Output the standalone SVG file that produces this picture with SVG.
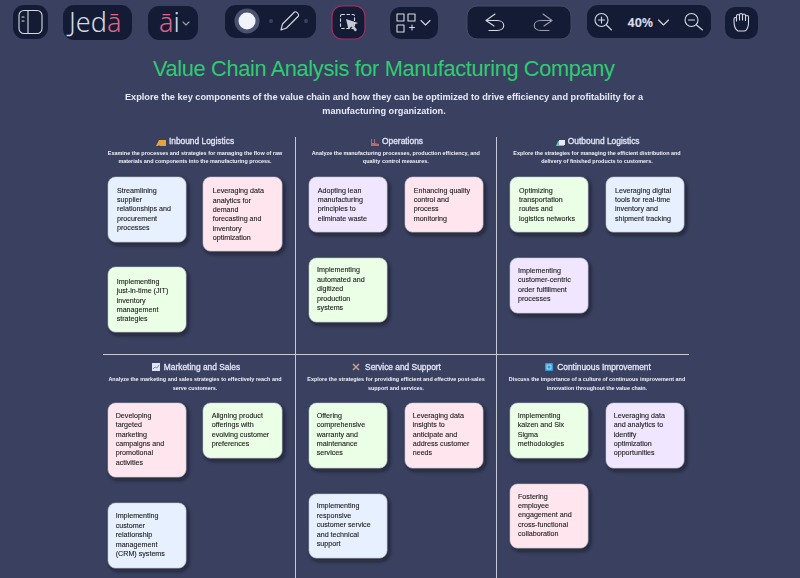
<svg xmlns="http://www.w3.org/2000/svg" width="800" height="578" viewBox="0 0 800 578">
<style>
text{font-family:"Liberation Sans",Arial,sans-serif}
.tb{fill:#141c35}
.ic{fill:none;stroke:#d5d9e2;stroke-width:1.1;stroke-linecap:round;stroke-linejoin:round}
.dim{stroke:#9aa0b0}
.logo{font-family:"Noto Sans",sans-serif;font-size:27px;font-weight:300;fill:#d5d9e2}
.pk{fill:#e0648c}
.card{stroke:#c0c5d2;stroke-width:.5;filter:url(#sh)}
.ct{font-size:7.15px;fill:#111;stroke:#111;stroke-width:.08;filter:url(#soft)}
.h{font-size:8.4px;fill:#e2e6f6;stroke:#e2e6f6;stroke-width:.3;text-anchor:middle;filter:url(#soft)}
.d{font-size:5.45px;font-weight:bold;fill:#eef0f8;text-anchor:middle;filter:url(#soft)}
.sub{font-size:9.2px;font-weight:bold;fill:#e6e9f4;text-anchor:middle;filter:url(#soft)}
.blue{fill:#e6f0ff}.pink{fill:#ffe6ee}.green{fill:#eaffe6}.lav{fill:#f0e6ff}
.ln{stroke:#c6cad6;stroke-width:1;fill:none}
</style>
<defs>
<filter id="sh" x="-20%" y="-20%" width="150%" height="150%"><feDropShadow dx="2" dy="2.500" stdDeviation="2" flood-color="#10131f" flood-opacity=".7"/></filter>
<filter id="soft" x="-5%" y="-30%" width="110%" height="160%"><feGaussianBlur stdDeviation=".22"/></filter>
</defs>
<rect width="800" height="578" fill="#3a4160"/>
<g id="toolbar">
<rect class="tb" x="13" y="5" width="35" height="34" rx="11"/>
<rect class="ic" x="19" y="10.500" width="23" height="23" rx="5"/><path class="ic" d="M28 10.500V33.500M22 17h2M22 21h2"/>
<rect class="tb" x="63" y="5" width="69" height="35" rx="11"/>
<text class="logo" x="69" y="31.500">Jed<tspan class="pk">ā</tspan></text>
<rect class="tb" x="148" y="6" width="50" height="34" rx="11"/>
<text class="logo" x="159" y="31.500"><tspan class="pk">ā</tspan>i</text>
<path class="ic dim" stroke-width=".8" d="M183 22l3 3 3-3"/>
<rect class="tb" x="225" y="5" width="91" height="33" rx="11"/>
<circle cx="247" cy="21" r="12.500" fill="#4a5270"/><circle cx="247" cy="21" r="8.500" fill="#f1f3fb"/>
<circle cx="271" cy="21" r="2" fill="#3a4160"/><circle cx="306" cy="21" r="2" fill="#3a4160"/>
<path class="ic" d="M281 30l1.500-6 12-12c1.500-1 5 2 4 4l-12 12z"/>
<rect class="tb" x="332" y="6" width="33" height="33" rx="10" stroke="#a03060" stroke-width="1.200"/>
<rect class="ic" x="340.500" y="14.500" width="14" height="14" rx="1.500" stroke-dasharray="2.500 2.500"/>
<path d="M346 19l12 4-4.500 2 3.500 5-2 1.500-3.500-5-3 3z" fill="#c5cad6"/>
<rect class="tb" x="390" y="7" width="48" height="32" rx="10"/>
<rect class="ic" x="397" y="14" width="7" height="7"/><rect class="ic" x="408" y="14" width="7" height="7"/><rect class="ic" x="397" y="25" width="7" height="7"/>
<path class="ic" d="M412 25v5M409.500 27.500h5M421 20.500l4.500 4.500 4.500-4.500"/>
<rect class="tb" x="467" y="6" width="104" height="33" rx="10" stroke="#454c66"/>
<path class="ic" d="M495 14l-9 6.500 8 5.500M486 20.500h11c9 0 9 10 0 10h-8"/>
<path class="ic dim" d="M543 14l9 6.500-8 5.500M552 20.500h-11c-9 0-9 10 0 10h8"/>
<rect class="tb" x="587" y="5" width="124" height="33" rx="11"/>
<circle class="ic" cx="601.500" cy="20" r="6.500"/><path class="ic" d="M606.500 25l5 5M598.500 20h6M601.500 17v6"/>
<text x="627.500" y="27" font-size="12.500" font-weight="bold" fill="#d5d9e2" style="font-family:'Noto Sans',sans-serif">40%</text>
<path class="ic" d="M658.500 20l5 5 5-5"/>
<circle class="ic" cx="691.500" cy="20" r="6.500"/><path class="ic" d="M696.500 25l6 5M688.500 20h6"/>
<rect class="tb" x="725" y="7" width="33" height="32" rx="10"/>
<path class="ic" d="M738 31c-2-1-4-5-4-10v-2c0-2 2.500-2 2.500 0v2M736.500 19v-3c0-2 3-2 3 0v4M739.500 16v-1c0-2 3-2 3 0v5M742.500 15.500c0-2 3-2 3 0v5M745.500 17c0-2 3-2 3 0v6c0 4-2 8-4 8h-6.500"/>
</g>
<text x="384" y="76" font-size="21.800" fill="#2ecc71" text-anchor="middle" textLength="462">Value Chain Analysis for Manufacturing Company</text>
<text class="sub" x="384" y="100">Explore the key components of the value chain and how they can be optimized to drive efficiency and profitability for a</text>
<text class="sub" x="384" y="114">manufacturing organization.</text>
<g id="connectors">
<path class="ln" d="M295.500 137V578M496.500 137V578M103 354.500H689"/>
</g>
<g id="inbound-logistics">
<text class="h" x="201.500" y="144">Inbound Logistics</text>
<path d="M157 144l2-4h7v6h-10z" fill="#e8a23c"/><circle cx="159" cy="146.500" r="1" fill="#333"/>
<text class="d" x="195" y="155.200">Examine the processes and strategies for managing the flow of raw</text>
<text class="d" x="195" y="162.700">materials and components into the manufacturing process.</text>
</g>
<g id="card-1"><rect class="card blue" x="108" y="177" width="78" height="65" rx="7.500"/><text class="ct"><tspan x="117" y="192.500">Streamlining</tspan><tspan x="117" y="202">supplier</tspan><tspan x="117" y="211">relationships and</tspan><tspan x="117" y="220.500">procurement</tspan><tspan x="117" y="230">processes</tspan></text></g>
<g id="card-2"><rect class="card pink" x="203" y="177" width="79" height="74" rx="7.500"/><text class="ct"><tspan x="212.700" y="193">Leveraging data</tspan><tspan x="212.700" y="202.500">analytics for</tspan><tspan x="212.700" y="212">demand</tspan><tspan x="212.700" y="221">forecasting and</tspan><tspan x="212.700" y="230.500">inventory</tspan><tspan x="212.700" y="240">optimization</tspan></text></g>
<g id="card-3"><rect class="card green" x="108" y="267" width="78" height="65" rx="7.500"/><text class="ct"><tspan x="116.700" y="283.500">Implementing</tspan><tspan x="116.700" y="293">just-in-time (JIT)</tspan><tspan x="116.700" y="302.500">inventory</tspan><tspan x="116.700" y="311.500">management</tspan><tspan x="116.700" y="321">strategies</tspan></text></g>
<g id="operations">
<text class="h" x="402.500" y="144">Operations</text>
<path d="M371 146v-7h1v4h2v-4h1v4l4 1v2z" fill="#b86a6a"/>
<text class="d" x="395.800" y="155.200">Analyze the manufacturing processes, production efficiency, and</text>
<text class="d" x="395.800" y="162.700">quality control measures.</text>
</g>
<g id="card-4"><rect class="card lav" x="309" y="177" width="78" height="55" rx="7.500"/><text class="ct"><tspan x="317.700" y="192.500">Adopting lean</tspan><tspan x="317.700" y="202">manufacturing</tspan><tspan x="317.700" y="211">principles to</tspan><tspan x="317.700" y="220.500">eliminate waste</tspan></text></g>
<g id="card-5"><rect class="card pink" x="405" y="177" width="78" height="55" rx="7.500"/><text class="ct"><tspan x="413.700" y="192.500">Enhancing quality</tspan><tspan x="413.700" y="202">control and</tspan><tspan x="413.700" y="211">process</tspan><tspan x="413.700" y="220.500">monitoring</tspan></text></g>
<g id="card-6"><rect class="card green" x="309" y="258" width="78" height="64" rx="7.500"/><text class="ct"><tspan x="317" y="272">Implementing</tspan><tspan x="317" y="281.500">automated and</tspan><tspan x="317" y="291">digitized</tspan><tspan x="317" y="300.500">production</tspan><tspan x="317" y="310">systems</tspan></text></g>
<g id="outbound-logistics">
<text class="h" x="603.700" y="144">Outbound Logistics</text>
<path d="M556 146l2-5h6v5z" fill="#5cc8a8"/><rect x="559" y="140" width="6" height="5" fill="#e8ebf5"/>
<text class="d" x="597" y="155.200">Explore the strategies for managing the efficient distribution and</text>
<text class="d" x="597" y="162.700">delivery of finished products to customers.</text>
</g>
<g id="card-7"><rect class="card green" x="510" y="177" width="78" height="55" rx="7.500"/><text class="ct"><tspan x="519" y="192.500">Optimizing</tspan><tspan x="519" y="202">transportation</tspan><tspan x="519" y="211">routes and</tspan><tspan x="519" y="220.500">logistics networks</tspan></text></g>
<g id="card-8"><rect class="card blue" x="606" y="177" width="78" height="55" rx="7.500"/><text class="ct"><tspan x="615" y="192.500">Leveraging digital</tspan><tspan x="615" y="202">tools for real-time</tspan><tspan x="615" y="211">inventory and</tspan><tspan x="615" y="220.500">shipment tracking</tspan></text></g>
<g id="card-9"><rect class="card lav" x="510" y="258" width="78" height="55" rx="7.500"/><text class="ct"><tspan x="518" y="272.500">Implementing</tspan><tspan x="518" y="282">customer-centric</tspan><tspan x="518" y="291.500">order fulfillment</tspan><tspan x="518" y="300.500">processes</tspan></text></g>
<g id="marketing-and-sales">
<text class="h" x="202" y="370">Marketing and Sales</text>
<rect x="152" y="363" width="8" height="8" fill="#dfe4f2"/><path d="M153 369l2-2 2 1 2-3" stroke="#4a7ac8" fill="none" stroke-width=".8"/>
<text class="d" x="195" y="381">Analyze the marketing and sales strategies to effectively reach and</text>
<text class="d" x="195" y="389.500">serve customers.</text>
</g>
<g id="card-10"><rect class="card pink" x="108" y="403" width="78" height="74" rx="7.500"/><text class="ct"><tspan x="115.700" y="418">Developing</tspan><tspan x="115.700" y="427">targeted</tspan><tspan x="115.700" y="436.500">marketing</tspan><tspan x="115.700" y="446">campaigns and</tspan><tspan x="115.700" y="455">promotional</tspan><tspan x="115.700" y="464.500">activities</tspan></text></g>
<g id="card-11"><rect class="card green" x="203" y="403" width="79" height="55" rx="7.500"/><text class="ct"><tspan x="211.700" y="418">Aligning product</tspan><tspan x="211.700" y="427">offerings with</tspan><tspan x="211.700" y="436.500">evolving customer</tspan><tspan x="211.700" y="446">preferences</tspan></text></g>
<g id="card-12"><rect class="card blue" x="108" y="503" width="78" height="65" rx="7.500"/><text class="ct"><tspan x="115.700" y="518">Implementing</tspan><tspan x="115.700" y="527.500">customer</tspan><tspan x="115.700" y="537">relationship</tspan><tspan x="115.700" y="546.500">management</tspan><tspan x="115.700" y="556">(CRM) systems</tspan></text></g>
<g id="service-and-support">
<text class="h" x="403" y="370">Service and Support</text>
<path d="M353 370l6-6M353 364l6 6" stroke="#c9a090" stroke-width="1.500"/>
<text class="d" x="396" y="381">Explore the strategies for providing efficient and effective post-sales</text>
<text class="d" x="396" y="389.500">support and services.</text>
</g>
<g id="card-13"><rect class="card green" x="309" y="403" width="78" height="65" rx="7.500"/><text class="ct"><tspan x="316.700" y="418">Offering</tspan><tspan x="316.700" y="427">comprehensive</tspan><tspan x="316.700" y="436.500">warranty and</tspan><tspan x="316.700" y="446">maintenance</tspan><tspan x="316.700" y="455">services</tspan></text></g>
<g id="card-14"><rect class="card pink" x="405" y="403" width="78" height="65" rx="7.500"/><text class="ct"><tspan x="412.700" y="418">Leveraging data</tspan><tspan x="412.700" y="427">insights to</tspan><tspan x="412.700" y="436.500">anticipate and</tspan><tspan x="412.700" y="446">address customer</tspan><tspan x="412.700" y="455">needs</tspan></text></g>
<g id="card-15"><rect class="card blue" x="309" y="494" width="78" height="64" rx="7.500"/><text class="ct"><tspan x="316.700" y="508">Implementing</tspan><tspan x="316.700" y="517.500">responsive</tspan><tspan x="316.700" y="527">customer service</tspan><tspan x="316.700" y="536.500">and technical</tspan><tspan x="316.700" y="546">support</tspan></text></g>
<g id="continuous-improvement">
<text class="h" x="604" y="370">Continuous Improvement</text>
<rect x="545" y="363" width="8" height="8" rx="1" fill="#2d9cdb"/><rect x="547" y="365" width="4" height="4" fill="none" stroke="#dfe4f2" stroke-width=".8"/>
<text class="d" x="597" y="381">Discuss the importance of a culture of continuous improvement and</text>
<text class="d" x="597" y="389.500">innovation throughout the value chain.</text>
</g>
<g id="card-16"><rect class="card green" x="510" y="403" width="78" height="55" rx="7.500"/><text class="ct"><tspan x="517.700" y="418">Implementing</tspan><tspan x="517.700" y="427">kaizen and Six</tspan><tspan x="517.700" y="436.500">Sigma</tspan><tspan x="517.700" y="446">methodologies</tspan></text></g>
<g id="card-17"><rect class="card lav" x="606" y="403" width="78" height="65" rx="7.500"/><text class="ct"><tspan x="613.700" y="418">Leveraging data</tspan><tspan x="613.700" y="427">and analytics to</tspan><tspan x="613.700" y="436.500">identify</tspan><tspan x="613.700" y="446">optimization</tspan><tspan x="613.700" y="455">opportunities</tspan></text></g>
<g id="card-18"><rect class="card pink" x="510" y="484" width="78" height="64" rx="7.500"/><text class="ct"><tspan x="518" y="498.500">Fostering</tspan><tspan x="518" y="508">employee</tspan><tspan x="518" y="517">engagement and</tspan><tspan x="518" y="526.500">cross-functional</tspan><tspan x="518" y="535.500">collaboration</tspan></text></g>
</svg>
